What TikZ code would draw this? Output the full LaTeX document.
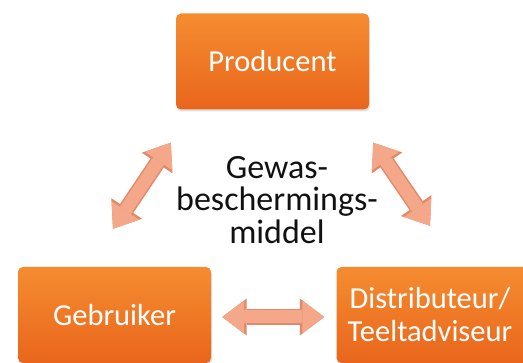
\documentclass[tikz,border=0pt]{standalone}
\usepackage{fontspec}
\setmainfont{Carlito}
\usetikzlibrary{arrows.meta, calc, shadows}
\definecolor{gbBoxTop}{HTML}{F58C30}
\definecolor{gbBoxBot}{HTML}{E9661C}
\definecolor{gbArrowFill}{HTML}{F4A789}
\definecolor{gbArrowEdge}{HTML}{E2896A}
\definecolor{gbInk}{HTML}{111111}
\tikzset{
  gbbox/.style={
    top color=gbBoxTop, bottom color=gbBoxBot, draw=none,
    rounded corners=5pt, minimum width=193pt, minimum height=96pt,
    inner sep=0pt, align=center, text=white,
    font=\fontsize{30.5}{33}\selectfont,
    drop shadow={opacity=0.25, shadow xshift=1pt, shadow yshift=-2pt},
  },
  gblabel/.style={
    text=gbInk, align=center, inner sep=0pt,
    font=\fontsize{34}{32.5}\selectfont,
  },
  gbtip/.tip={Triangle[length=22pt, width=33pt, line width=0pt]},
  gbtipedge/.tip={Triangle[length=24.5pt, width=37pt, line width=0pt]},
  gbarrow/.style={
    preaction={draw=gbArrowEdge, line width=16pt, {gbtipedge}-{gbtipedge}},
    draw=gbArrowFill, line width=13pt, {gbtip}-{gbtip},
  },
}

\begin{document}
\begin{tikzpicture}[x=1pt, y=1pt]
\useasboundingbox (0,0) rectangle (523,363);

% Boxes -------------------------------------------------------------------
\node[gbbox] (prod) at (272.5,301.5) {Producent};
\node[gbbox] (gebr) at (114.5,48) {Gebruiker};
\node[gbbox] (dist) at (433,48) {\hspace*{-6pt}Distributeur/\\\hspace*{-6pt}Teeltadviseur};

% Middle ------------------------------------------------------------------
\node[gblabel] (middel) at (277,163) {Gewas-\\beschermings-\\middel};

% Flow --------------------------------------------------------------------
\draw[gbarrow] ($(prod.south west)+(-5,-33)$) -- ($(gebr.north)+(-1.5,38)$);
\draw[gbarrow] ($(prod.south east)+(4,-33)$) -- ($(dist.north)+(-3,41)$);
\draw[gbarrow] ($(gebr.east)+(11,-2)$) -- ($(dist.west)+(-12,-2)$);

\end{tikzpicture}
\end{document}
